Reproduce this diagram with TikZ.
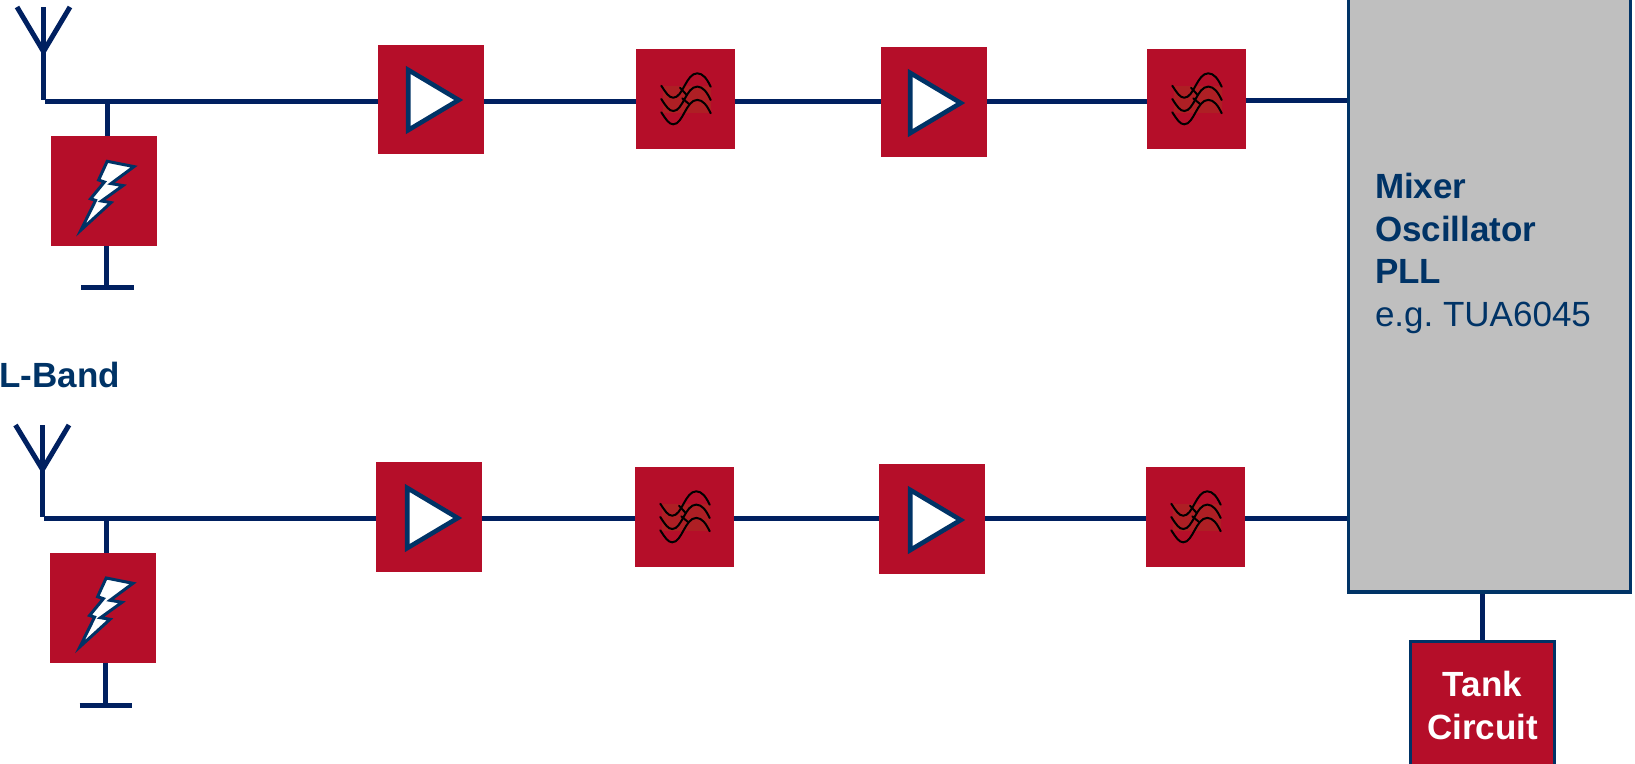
\documentclass[tikz,border=0pt]{standalone}
\usepackage{fontspec}
\setmainfont{Liberation Sans}
\frenchspacing
\definecolor{boxred}{HTML}{B50E29}
\definecolor{wirenavy}{HTML}{002060}
\definecolor{textnavy}{HTML}{003366}
\definecolor{mixgray}{HTML}{BFBFBF}
\definecolor{tintred}{HTML}{AE1F24}
\tikzset{
  redbox/.style={fill=boxred,draw=none,inner sep=0pt,outer sep=0pt,minimum width=#1},
  ampbox/.style={redbox=106pt,minimum height=110pt},
  surgebox/.style={redbox=106pt,minimum height=110pt},
  filterbox/.style={redbox=99pt,minimum height=100pt},
  wire/.style={draw=wirenavy,line width=5pt},
  tri/.style={fill=white,draw=textnavy,line width=4.6pt,miter limit=10},
  boltshape/.style={fill=white,draw=textnavy,line width=3pt,miter limit=10,line join=miter},
  wave/.style={draw=black,line width=2pt,line cap=round},
  lbl/.style={inner sep=0pt,outer sep=0pt,text=textnavy},
}
\newcommand{\ampsym}[1]{%
  \begin{scope}[shift={(#1)}]
    \draw[tri] (2.2,-30.1) -- (52.7,0) -- (2.2,30.1) -- cycle;
  \end{scope}}
\newcommand{\filtersym}[1]{%
  \begin{scope}[shift={(#1)}]
    \fill[tintred] (27,37) rectangle (74.7,64);
    \foreach \dy in {0,13.3,26.6}{
      \draw[wave] (25.3,36.7+\dy) .. controls (30,44+\dy) and (33,48.7+\dy) .. (37.3,48.7+\dy)
        .. controls (47,48.7+\dy) and (50,24.3+\dy) .. (61.3,24.3+\dy)
        .. controls (67,24.3+\dy) and (71,30+\dy) .. (74.7,37.7+\dy);
    }
    \draw[wave] (44,38.7) -- (50.7,46);
    \draw[wave] (46.3,49.3) -- (53,55);
  \end{scope}}
\newcommand{\boltsym}[1]{%
  \begin{scope}[shift={(#1)}]
    \draw[boltshape] (56.2,25.3) -- (83,30.6) -- (60,47.6) -- (72,49.6) -- (50.5,65) -- (60,66.6) -- (30,94)
      -- (44.6,64.4) -- (39.6,62.8) -- (53.4,46) -- (47.6,44) -- cycle;
  \end{scope}}
\begin{document}
\begin{tikzpicture}[x=1pt,y=-1pt]
\useasboundingbox (0,0) rectangle (1635,763);
% top-row nodes
\node[surgebox] (s1) at (104,191) {};
\node[ampbox,minimum height=109pt] (a1) at (431,99.5) {};
\node[filterbox] (f1) at (685.5,99) {};
\node[ampbox] (a2) at (934,102) {};
\node[filterbox] (f2) at (1196.5,99) {};
% bottom-row nodes
\node[surgebox] (s2) at (103,607.7) {};
\node[ampbox] (a3) at (429,517) {};
\node[filterbox] (f3) at (684.5,517) {};
\node[ampbox] (a4) at (932,519) {};
\node[filterbox] (f4) at (1195.5,517) {};
% mixer and tank
\node[fill=mixgray,draw=textnavy,line width=3.4pt,inner sep=0pt,outer sep=1.7pt,minimum width=282pt,minimum height=622pt] (mix) at (1489.5,281) {};
\node[fill=boxred,draw=textnavy,line width=3.4pt,inner sep=0pt,outer sep=1.7pt,minimum width=144pt,minimum height=140pt] (tank) at (1482.5,711.5) {};
% free ends
\coordinate (top1) at (43.5,7);
\coordinate (apex1) at (43.5,51.5);
\coordinate (armL1) at (17,7);
\coordinate (armR1) at (70,7);
\coordinate (foot1) at (43.5,100);
\coordinate (j1) at (45,101);
\coordinate (tee1) at (107,101);
\coordinate (g1) at (106,287.5);
\coordinate (gl1) at (81,287.5);
\coordinate (gr1) at (133.5,287.5);
\coordinate (top2) at (42.5,425);
\coordinate (apex2) at (42.5,469.5);
\coordinate (armL2) at (15.5,425);
\coordinate (armR2) at (69,425);
\coordinate (foot2) at (42.5,517);
\coordinate (j2) at (44,518.5);
\coordinate (tee2) at (106,518.5);
\coordinate (g2) at (105,705);
\coordinate (gl2) at (79.5,705);
\coordinate (gr2) at (132,705);
% antennas
\draw[wire] (top1) -- (foot1);
\draw[wire,line join=miter] (armL1) -- (apex1) -- (armR1);
\draw[wire] (top2) -- (foot2);
\draw[wire,line join=miter] (armL2) -- (apex2) -- (armR2);
% top row wiring
\draw[wire] (j1) -- (a1.west |- j1);
\draw[wire] (a1.east |- j1) -- (f1.west |- j1);
\draw[wire] (f1.east |- j1) -- (a2.west |- j1);
\draw[wire] (a2.east |- j1) -- (f2.west |- j1);
\draw[wire] (f2.east |- 0,100) -- (mix.west |- 0,100);
\draw[wire] (tee1) -- (tee1 |- s1.north);
\draw[wire] (g1 |- s1.south) -- (g1);
\draw[wire] (gl1) -- (gr1);
% bottom row wiring
\draw[wire] (j2) -- (a3.west |- j2);
\draw[wire] (a3.east |- j2) -- (f3.west |- j2);
\draw[wire] (f3.east |- j2) -- (a4.west |- j2);
\draw[wire] (a4.east |- j2) -- (f4.west |- j2);
\draw[wire] (f4.east |- 0,518) -- (mix.west |- 0,518);
\draw[wire] (tee2) -- (tee2 |- s2.north);
\draw[wire] (g2 |- s2.south) -- (g2);
\draw[wire] (gl2) -- (gr2);
% tank link
\draw[wire] (mix.south -| tank.north) -- (tank.north);
% symbols
\boltsym{51,136}
\boltsym{50,552.7}
\ampsym{406,100}
\ampsym{908,103}
\ampsym{405,518}
\ampsym{908,520}
\filtersym{636,49}
\filtersym{1147,49}
\filtersym{635,467}
\filtersym{1146,467}
% text
\node[lbl,anchor=base west] (lband) at (-0.5,387) {\fontsize{35}{42.5}\selectfont\bfseries L-Band};
\node[lbl,anchor=north west,align=left,font=\fontsize{35}{42.5}\selectfont] (mixtext) at (1375,173.5) {\textbf{Mixer}\\\textbf{Oscillator}\\\textbf{PLL}\\e.g. TUA6045};
\node[lbl,text=white,anchor=north,align=center,font=\fontsize{35}{43}\selectfont\bfseries] (tanktext) at (1482.5,671) {Tank\\Circuit};
\end{tikzpicture}
\end{document}
